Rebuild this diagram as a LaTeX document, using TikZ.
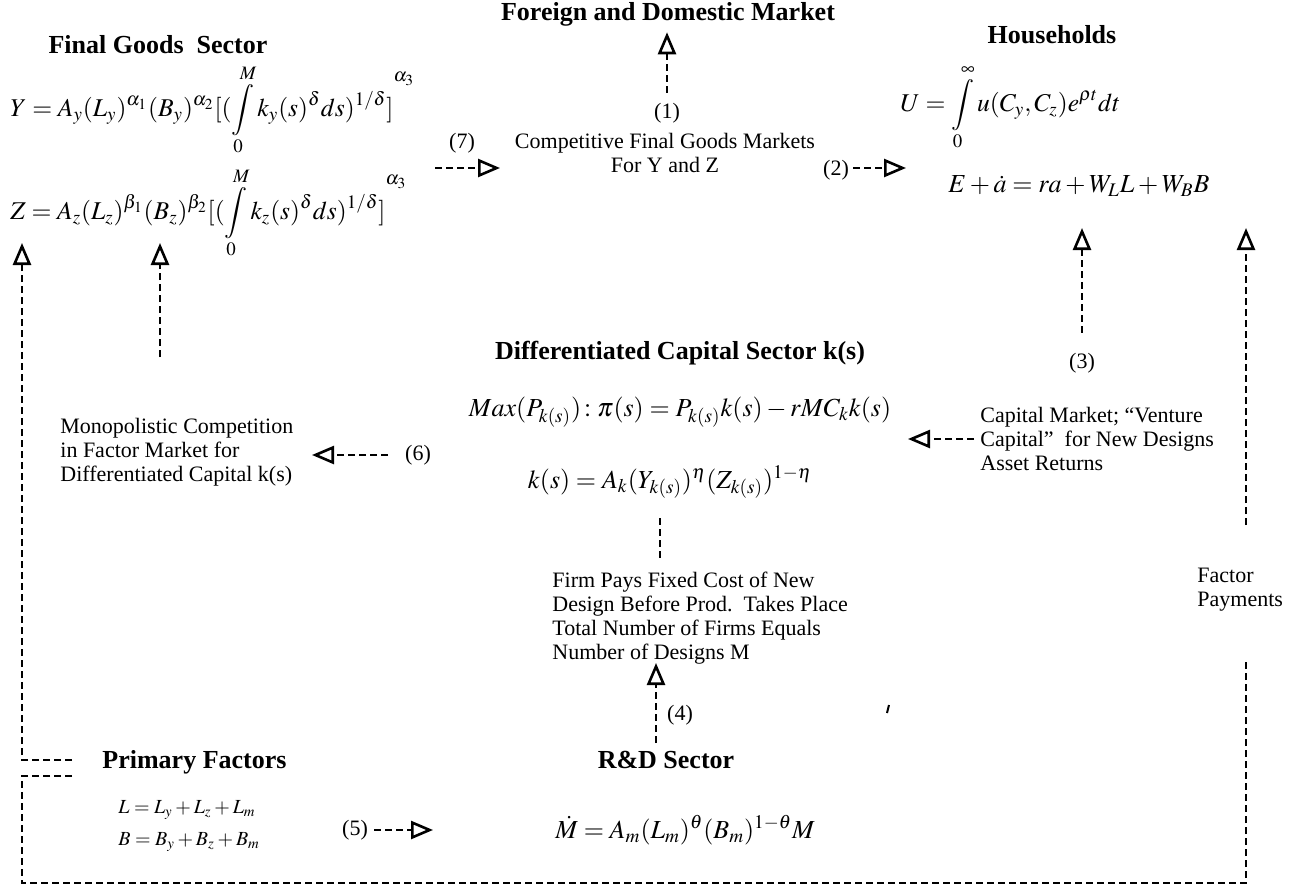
\documentclass[tikz,border=0pt]{standalone}
\usepackage{mathptmx}
\usepackage{fontspec}
\setmainfont{Liberation Serif}
\usetikzlibrary{arrows.meta}

\tikzset{
  head/.style={font=\fontsize{13}{15}\selectfont\bfseries, inner sep=1pt},
  txt/.style={font=\fontsize{11}{12}\selectfont, align=left, inner sep=1pt},
  mid/.style={font=\fontsize{11}{12}\selectfont, align=center, inner sep=1pt},
  eqn/.style={font=\fontsize{13}{15}\selectfont, inner sep=1pt},
  bigeqn/.style={font=\fontsize{12.8}{15}\selectfont, inner sep=1pt},
  smalleqn/.style={font=\fontsize{10}{12}\selectfont, inner sep=1pt},
  flow/.style={line width=1.3pt, dash pattern=on 3.5pt off 2pt},
  flowarr/.style={flow, -{Triangle[open, length=11pt, width=9pt]}},
}

\begin{document}
\begin{tikzpicture}[x=0.5pt, y=-0.5pt]
  \useasboundingbox (0,0) rectangle (1305,888);

  \node[head] (foreign) at (668,14) {Foreign and Domestic Market};
  \node[head] (final) at (158,45) {Final Goods\ \ Sector};
  \node[head] (house) at (1052,35) {Households};
  \node[head] (diff) at (680,353) {Differentiated Capital Sector k(s)};
  \node[head, anchor=west] (primary) at (100,762) {Primary Factors};
  \node[head] (rnd) at (666,760) {R\&D Sector};

  \node[bigeqn, anchor=west] (yeq) at (8,110)
    {$\displaystyle Y = A_y(L_y)^{\alpha_1}(B_y)^{\alpha_2}[(\int\limits_0^M k_y(s)^{\delta}ds)^{1/\delta}]^{\raisebox{12pt}{$\scriptstyle\alpha_3$}}$};
  \node[bigeqn, anchor=west] (zeq) at (8,213)
    {$\displaystyle Z = A_z(L_z)^{\beta_1}(B_z)^{\beta_2}[(\int\limits_0^M k_z(s)^{\delta}ds)^{1/\delta}]^{\raisebox{12pt}{$\scriptstyle\alpha_3$}}$};
  \node[bigeqn, anchor=west] (ueq) at (898,107)
    {$\displaystyle U = \int\limits_0^{\infty} u(C_y, C_z)e^{\rho t}dt$};
  \node[eqn, anchor=west] (eeq) at (946,186)
    {$E + \dot{a} = ra + W_L L + W_B B$};
  \node[eqn] (maxeq) at (680,412)
    {$Max(P_{k(s)})\!:\pi(s) = P_{k(s)}k(s) - rMC_k k(s)$};
  \node[eqn] (keq) at (670,482)
    {$k(s) = A_k(Y_{k(s)})^{\eta}(Z_{k(s)})^{1-\eta}$};
  \node[smalleqn, anchor=west] (leq) at (116,810) {$L = L_y + L_z + L_m$};
  \node[smalleqn, anchor=west] (beq) at (116,842) {$B = B_y + B_z + B_m$};
  \node[eqn] (meq) at (685,830) {$\dot{M} = A_m(L_m)^{\theta}(B_m)^{1-\theta}M$};

  \node[mid] (compet) at (665,153) {Competitive Final Goods Markets\\For Y and Z};
  \node[txt, anchor=west] (mono) at (58,452)
    {Monopolistic Competition\\in Factor Market for\\Differentiated Capital k(s)};
  \node[txt, anchor=west] (capmkt) at (978,439)
    {Capital Market; ``Venture\\Capital''\ \ for New Designs\\Asset Returns};
  \node[txt, anchor=west] (firm) at (550,618)
    {Firm Pays Fixed Cost of New\\Design Before Prod.\ \ Takes Place\\Total Number of Firms Equals\\Number of Designs M};
  \node[txt, anchor=west] (factor) at (1195,590) {Factor\\Payments};

  \node[txt] (lab1) at (667,113) {(1)};
  \node[txt] (lab2) at (836,170) {(2)};
  \node[txt] (lab3) at (1082,363) {(3)};
  \node[txt] (lab4) at (680,715) {(4)};
  \node[txt] (lab5) at (355,830) {(5)};
  \node[txt] (lab6) at (418,455) {(6)};
  \node[txt] (lab7) at (462,143) {(7)};

  \coordinate (c7a) at (435,168);
  \coordinate (c7b) at (500,168);
  \coordinate (c2) at (906,168);
  \coordinate (c3) at (1082,228);
  \coordinate (fpTop) at (1246,228);
  \coordinate (fpA) at (1246,525);
  \coordinate (fpB) at (1246,660);
  \coordinate (zTip) at (22,243);
  \coordinate (bTip) at (160,243);
  \coordinate (bA) at (160,357);
  \coordinate (pfA) at (72,760);
  \coordinate (pfB) at (72,776);
  \coordinate (cornerL) at (22,883);
  \coordinate (c6a) at (388,455);
  \coordinate (c6b) at (312,455);
  \coordinate (capTip) at (908,439);
  \coordinate (kd1) at (660,518);
  \coordinate (kd2) at (660,558);
  \coordinate (c4a) at (656,743);
  \coordinate (c4b) at (656,663);
  \coordinate (c5b) at (433,830);

  \draw[flowarr, shorten <=4pt, shorten >=2pt] (lab1.north) -- (lab1 |- foreign.south);
  \draw[flowarr] (c7a) -- (c7b);
  \draw[flowarr, shorten <=1pt] (lab2.east |- c2) -- (c2);
  \draw[flowarr, shorten <=9pt] (lab3.north) -- (c3);
  \draw[flowarr] (fpA) -- (fpTop);
  \draw[flowarr] (pfA) -| (zTip);
  \draw[flowarr] (bA) -- (bTip);
  \draw[flow] (pfB) -| (cornerL) -| (fpB);
  \draw[flowarr] (c6a) -- (c6b);
  \draw[flowarr, shorten <=2pt] (capmkt.west) -- (capTip);
  \draw[flow] (kd1) -- (kd2);
  \draw[flowarr] (c4a) -- (c4b);
  \draw[flowarr, shorten <=2pt] (lab5.east) -- (c5b);
  \draw[line width=1pt] (889,705) -- (887,713);
\end{tikzpicture}
\end{document}
